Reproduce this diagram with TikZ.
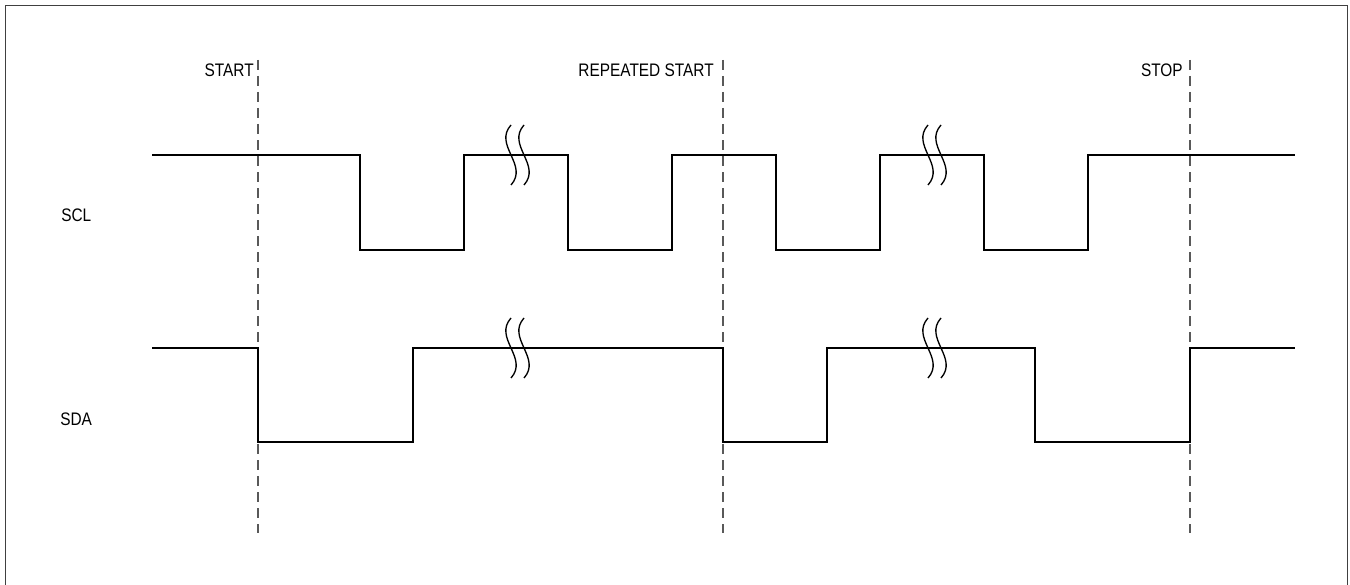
\documentclass[tikz,border=0pt]{standalone}
\usepackage{fontspec}
\setmainfont{Liberation Sans}[FakeStretch=0.85]
\usetikzlibrary{positioning}

\begin{document}
\begin{tikzpicture}[
  x=0.75pt, y=-0.75pt,
  font=\fontsize{13.6}{16}\selectfont,
  lbl/.style={inner sep=0pt},
  wave/.style={line width=1.1pt, black},
  marker/.style={line width=1.1pt, black!65, dash pattern=on 7.5pt off 4.5pt},
  brk/.style={line width=1pt, black},
  frame/.style={line width=1.4pt, black!75}
]
  \clip (0,0) rectangle (1350,585);
  \draw[frame] (5.5,5.5) rectangle (1347.5,592);

  \node[lbl, anchor=base east] (start)  at (254,77)  {START};
  \node[lbl, anchor=base east] (rstart) at (714,77)  {REPEATED START};
  \node[lbl, anchor=base east] (stop)   at (1183,77) {STOP};
  \node[lbl, anchor=base west] (scl)    at (61,221)  {SCL};
  \node[lbl, anchor=base west] (sda)    at (60,425)  {SDA};

  \foreach \x/\name in {258/start, 723/rstart, 1190/stop}{
    \coordinate (\name top) at (\x,60);
    \coordinate (\name bot) at (\x,533);
    \draw[marker] (\name top) -- (\name bot);
  }

  \draw[wave] (152,155) -| (360,250) -| (464,155) -| (568,250) -| (672,155)
              -| (776,250) -| (880,155) -| (984,250) -| (1088,155) -- (1295,155);
  \draw[wave] (152,348) -| (258,442) -| (413,348) -| (723,442) -| (827,348)
              -| (1035,442) -| (1190,348) -- (1295,348);

  \foreach \x/\y in {511/155, 928/155, 511/348, 928/348}{
    \foreach \dx in {0,13}{
      \draw[brk, shift={({\x+\dx},\y)}]
        (0,-30) .. controls (-18,-10) and (18,10) .. (0,30);
    }
  }
\end{tikzpicture}
\end{document}
